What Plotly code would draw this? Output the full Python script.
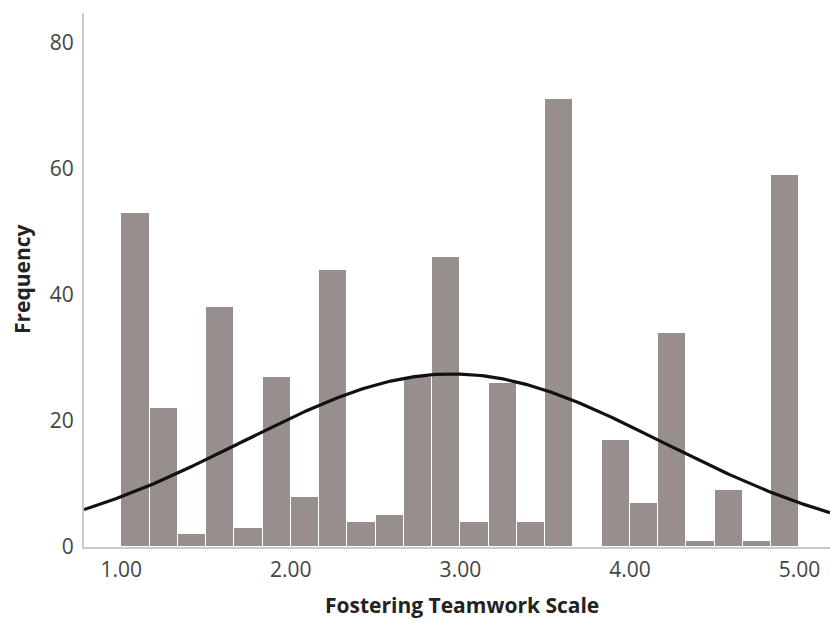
import numpy as np
import plotly.graph_objects as go

# Histogram bins (width 1/6) starting at 1.00, counts
bin_start = 1.0
bin_width = 1.0 / 6.0
counts = [53, 22, 2, 38, 3, 27, 8, 44, 4, 5, 27, 46,
          4, 26, 4, 71, 0, 17, 7, 34, 1, 9, 1, 59]

# Normal-curve parameters
curve_mean = 2.95
curve_sd = 1.24

x_ticks = [1, 2, 3, 4, 5]
x_tick_labels = ["1.00", "2.00", "3.00", "4.00", "5.00"]
y_ticks = [0, 20, 40, 60, 80]
x_title = "Fostering Teamwork Scale"
y_title = "Frequency"

centers = [bin_start + (i + 0.5) * bin_width for i in range(len(counts))]
n_total = sum(counts)

xr = [0.78, 5.18]
xs = np.linspace(xr[0], xr[1], 400)
ys = n_total * bin_width / (curve_sd * np.sqrt(2 * np.pi)) * np.exp(-0.5 * ((xs - curve_mean) / curve_sd) ** 2)

fig = go.Figure()
fig.add_trace(go.Bar(
    x=centers, y=counts, width=bin_width,
    marker=dict(color="#968f8e", line=dict(color="white", width=1)),
    showlegend=False, hoverinfo="x+y"
))
fig.add_trace(go.Scatter(
    x=xs, y=ys, mode="lines",
    line=dict(color="#111111", width=3.2),
    showlegend=False, hoverinfo="skip"
))

font_family = "Open Sans, DejaVu Sans, sans-serif"
fig.update_layout(
    width=830, height=622,
    margin=dict(l=84, r=0, t=13, b=75),
    plot_bgcolor="white", paper_bgcolor="white",
    bargap=0,
    xaxis=dict(
        range=xr, tickvals=x_ticks, ticktext=x_tick_labels,
        showgrid=False, zeroline=False, showline=True,
        linecolor="#cacaca", linewidth=2, ticks="",
        ticklabelstandoff=3,
        tickfont=dict(family=font_family, size=21, color="#444444"),
    ),
    yaxis=dict(
        range=[0, 84.7], tickvals=y_ticks,
        showgrid=False, zeroline=False, showline=True,
        linecolor="#cacaca", linewidth=2, ticks="",
        ticklabelstandoff=4,
        tickfont=dict(family=font_family, size=21, color="#444444"),
    ),
    annotations=[
        dict(text="<b>" + x_title + "</b>", xref="paper", yref="paper",
             x=0.507, y=-0.1086, xanchor="center", yanchor="middle",
             showarrow=False, font=dict(family=font_family, size=21, color="#222222")),
        dict(text="<b>" + y_title + "</b>", xref="paper", yref="paper",
             x=-0.083, y=0.502, xanchor="center", yanchor="middle", textangle=-90,
             showarrow=False, font=dict(family=font_family, size=21, color="#222222")),
    ],
)

fig.write_html("out.html")
